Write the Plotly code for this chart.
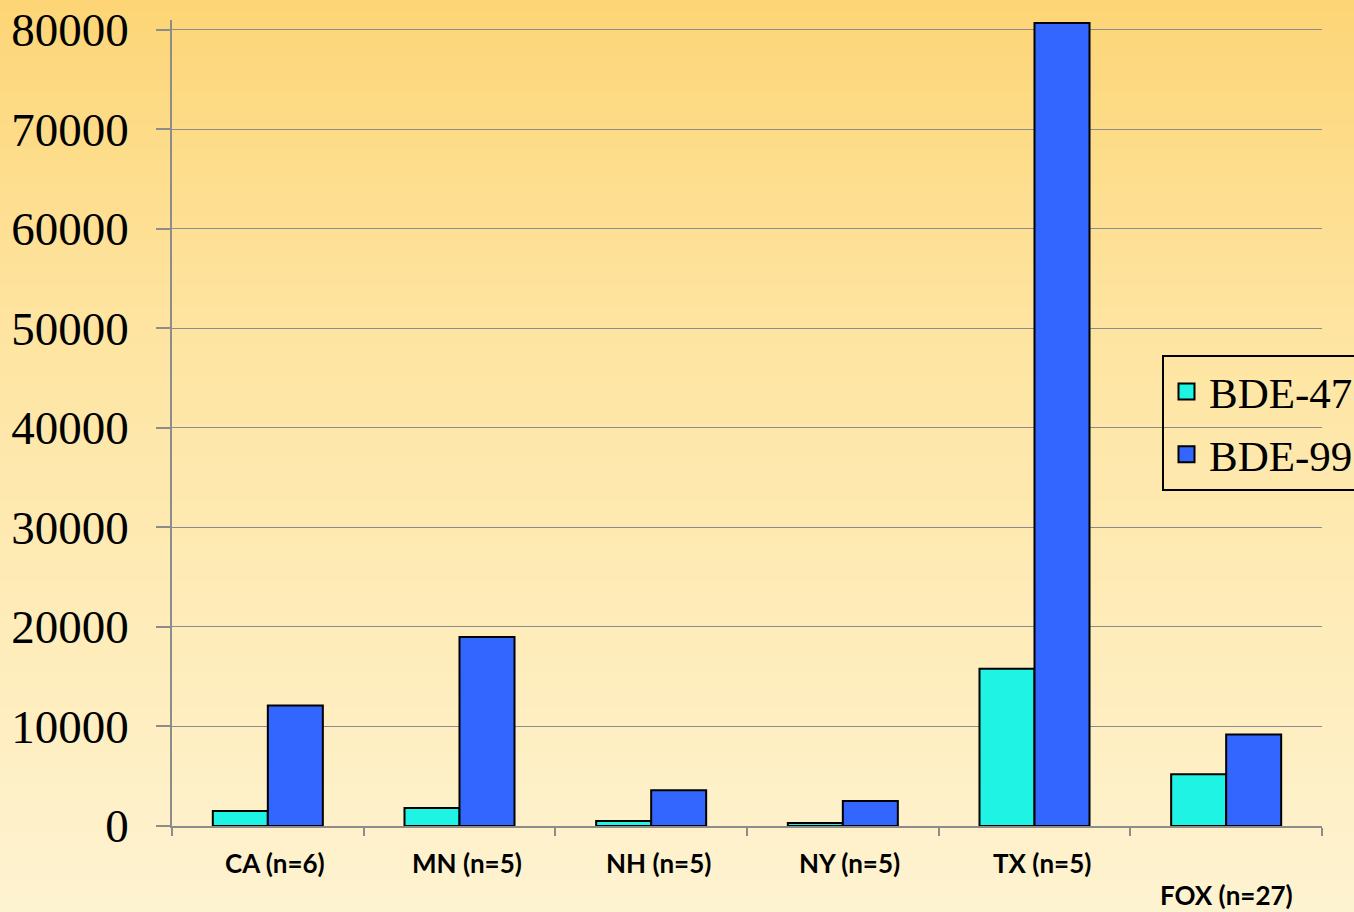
import plotly.graph_objects as go

# Data
categories = ["CA (n=6)", "MN (n=5)", "NH (n=5)", "NY (n=5)", "TX (n=5)", "FOX (n=27)"]
series_names = ["BDE-47", "BDE-99"]
bde47 = [1500, 1800, 500, 300, 15800, 5200]
bde99 = [12100, 19000, 3600, 2500, 80700, 9200]
y_ticks = [0, 10000, 20000, 30000, 40000, 50000, 60000, 70000, 80000]
colors = ["#1FF3E3", "#3366FF"]

W, H = 1354, 912
L, R, T, B = 172, 32, 20, 86
plot_w, plot_h = W - L - R, H - T - B

fig = go.Figure()
for name, vals, col in zip(series_names, [bde47, bde99], colors):
    fig.add_trace(go.Bar(
        x=categories, y=vals, name=name, showlegend=False,
        marker=dict(color=col, line=dict(color="#000000", width=2)),
    ))

# Legend entries with larger square swatches
for i, (name, col) in enumerate(zip(series_names, colors)):
    fig.add_trace(go.Scatter(
        x=[None], y=[None], mode="markers", name=name, legendgroup=str(i),
        marker=dict(symbol="square", size=16, color=col,
                    line=dict(color="#000000", width=2)),
    ))

# Vertical warm gradient behind the whole page, built from thin bands
stops = [(0.0, (253, 213, 118)), (0.35, (254, 228, 160)),
         (0.7, (254, 236, 186)), (1.0, (254, 243, 209))]


def color_at(t):
    for (t0, c0), (t1, c1) in zip(stops[:-1], stops[1:]):
        if t0 <= t <= t1:
            f = (t - t0) / (t1 - t0)
            return "rgb(%d,%d,%d)" % tuple(round(a + (b - a) * f) for a, b in zip(c0, c1))
    return "rgb(%d,%d,%d)" % stops[-1][1]


n_bands = 80
shapes = []
for i in range(n_bands):
    top_px = H * i / n_bands
    bot_px = H * (i + 1) / n_bands + 1
    y1 = (H - B - top_px) / plot_h
    y0 = (H - B - bot_px) / plot_h
    shapes.append(dict(
        type="rect", xref="paper", yref="paper", layer="below",
        x0=-L / plot_w, x1=1 + R / plot_w, y0=y0, y1=y1,
        fillcolor=color_at((i + 0.5) / n_bands), line=dict(width=0),
    ))

# Category labels under the axis (the last one sits on a lower row)
annotations = []
for i, cat in enumerate(categories):
    last = i == len(categories) - 1
    annotations.append(dict(
        x=cat, y=0, xref="x", yref="paper", yanchor="middle",
        yshift=-69 if last else -37, xshift=0 if last else 7,
        text="<b>%s</b>" % cat, showarrow=False,
        font=dict(family="Lato", size=26, color="#000000"),
    ))

fig.update_layout(
    width=W, height=H,
    margin=dict(l=L, r=R, t=T, b=B, autoexpand=False),
    paper_bgcolor="rgba(0,0,0,0)",
    plot_bgcolor="rgba(0,0,0,0)",
    barmode="group", bargap=0.426, bargroupgap=0,
    shapes=shapes, annotations=annotations,
    showlegend=True,
    legend=dict(
        x=(1162 - L) / plot_w, y=(H - B - 355) / plot_h,
        xanchor="left", yanchor="top",
        bgcolor="rgba(0,0,0,0)", bordercolor="#000000", borderwidth=2,
        font=dict(family="Liberation Serif", size=43, color="#000000"),
        tracegroupgap=4, itemsizing="trace", itemwidth=35,
    ),
    xaxis=dict(
        showticklabels=False, showgrid=False,
        showline=True, linecolor="#8C8C8C", linewidth=1.5,
        ticks="outside", tickson="boundaries", ticklen=8,
        tickcolor="#8C8C8C", tickwidth=1.5,
    ),
    yaxis=dict(
        range=[0, 81000], tickvals=y_ticks,
        ticktext=[str(v) for v in y_ticks],
        showgrid=True, gridcolor="#8C8C8C", gridwidth=1,
        showline=True, linecolor="#8C8C8C", linewidth=1.5,
        ticks="outside", ticklen=14, tickcolor="#8C8C8C", tickwidth=1.5,
        ticklabelstandoff=18, zeroline=False,
        tickfont=dict(family="Liberation Serif", size=47, color="#000000"),
    ),
)

fig.write_html("out.html")
